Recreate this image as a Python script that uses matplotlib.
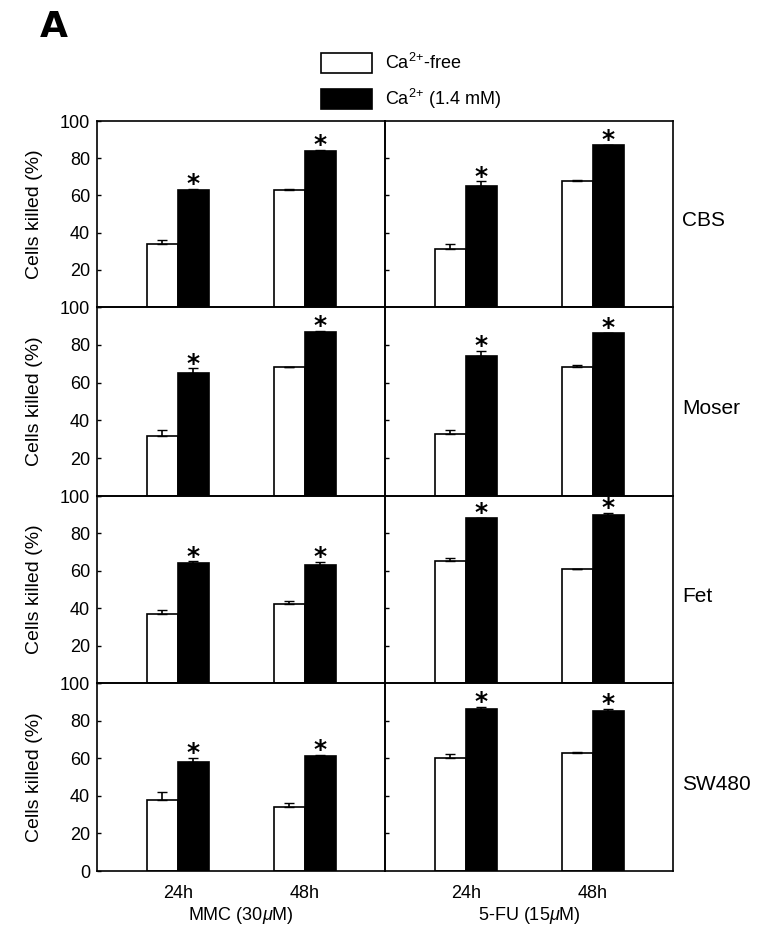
import matplotlib
matplotlib.use("Agg")
import matplotlib.pyplot as plt
from matplotlib.patches import Patch
import numpy as np

plt.rcParams['font.family'] = ['Liberation Sans', 'DejaVu Sans']
plt.rcParams['mathtext.fontset'] = 'custom'
plt.rcParams['mathtext.it'] = 'Liberation Sans:italic'
plt.rcParams['mathtext.rm'] = 'Liberation Sans'

cell_lines = ["CBS", "Moser", "Fet", "SW480"]
times = ["24h", "48h"]
drugs = ["MMC (30$\\mu$M)", "5-FU (15$\\mu$M)"]

# [cell line][drug] -> values per time point
free_vals = [
    [[34, 63], [31, 68]],
    [[32, 68], [33, 68]],
    [[37, 42], [65, 61]],
    [[38, 34], [60, 63]],
]
free_err = [
    [[2, 0.5], [3, 0.5]],
    [[3, 0.5], [2, 1.5]],
    [[2, 2], [2, 0]],
    [[4, 2], [2, 0.5]],
]
ca_vals = [
    [[63, 84], [65, 87]],
    [[65, 87], [74, 86]],
    [[64, 63], [88, 90]],
    [[58, 61], [86, 85]],
]
ca_err = [
    [[0.5, 0.5], [2.5, 0.3]],
    [[2.5, 0.3], [2.5, 0.5]],
    [[1, 1.5], [0.5, 1]],
    [[2, 0.5], [1.5, 1]],
]

W, H = 781, 947
fig = plt.figure(figsize=(W / 100, H / 100), dpi=100)

col_px = [(97, 385), (385, 673)]
row_px = [121, 307, 496, 683, 871]
bw = 0.244

for r, line in enumerate(cell_lines):
    y0 = 1 - row_px[r + 1] / H
    h = (row_px[r + 1] - row_px[r]) / H
    for c in range(2):
        x0 = col_px[c][0] / W
        ax = fig.add_axes([x0, y0, (col_px[c][1] - col_px[c][0]) / W, h])
        ax.patch.set_alpha(0)
        x = np.arange(len(times))
        fv, fe = free_vals[r][c], free_err[r][c]
        cv, ce = ca_vals[r][c], ca_err[r][c]
        ax.bar(x - bw / 2, fv, bw, color='white', edgecolor='black', linewidth=1.2, zorder=2)
        ax.bar(x + bw / 2, cv, bw, color='black', edgecolor='black', linewidth=1.2, zorder=2)
        ax.errorbar(x - bw / 2, fv, yerr=[np.zeros(2), fe], fmt='none', ecolor='black',
                    elinewidth=1.2, capsize=3.5, zorder=3)
        ax.errorbar(x + bw / 2, cv, yerr=[np.zeros(2), ce], fmt='none', ecolor='black',
                    elinewidth=1.2, capsize=3.5, zorder=1)
        for xi, v, e in zip(x + bw / 2, cv, ce):
            ax.annotate("*", (xi, v + e), xytext=(0, -1.5), textcoords='offset points',
                        ha='center', va='baseline', fontsize=18, fontweight='bold',
                        family='DejaVu Sans', annotation_clip=False, zorder=5)
        ax.set_xlim(-0.637, 1.63)
        ax.set_ylim(0, 100)
        for s in ax.spines.values():
            s.set_linewidth(1.2)
        if c == 0:
            ax.set_yticks([0, 20, 40, 60, 80, 100])
            labels = ['0', '20', '40', '60', '80', '100']
            if r < 3:
                labels[0] = ''
            ax.set_yticklabels(labels, fontsize=13)
            ax.tick_params(axis='y', direction='in', length=3, width=1, pad=5)
            ax.set_ylabel("Cells killed (%)", fontsize=14, labelpad=12)
        else:
            ax.set_yticks([20, 40, 60, 80])
            ax.set_yticklabels([])
            ax.tick_params(axis='y', direction='in', length=3, width=1)
            ax.text(682 / W, 1 - (row_px[r] + row_px[r + 1]) / 2 / H - 7 / H, line,
                    transform=fig.transFigure, fontsize=15, ha='left', va='center')
        if r == 3:
            ax.set_xticks(x)
            ax.set_xticklabels(times, fontsize=13)
            ax.tick_params(axis='x', length=0, pad=10)
            ax.set_xlabel(drugs[c], fontsize=13, labelpad=2)
        else:
            ax.set_xticks([])

fig.text(40 / W, 1 - 27 / H, "A", fontsize=26, fontweight='bold', va='center', ha='left',
         family='DejaVu Sans')

handles = [Patch(facecolor='white', edgecolor='black', linewidth=1.2),
           Patch(facecolor='black', edgecolor='black', linewidth=1.2)]
fig.legend(handles, ["Ca$^{2{+}}$-free", "Ca$^{2{+}}$ (1.4 mM)"], loc='upper left',
           bbox_to_anchor=(321 / W, 1 - 53 / H), frameon=False, fontsize=13,
           borderpad=0, borderaxespad=0, handlelength=2.83, handleheight=1.36,
           labelspacing=0.75, handletextpad=0.7)

fig.savefig("out.png", dpi=100)
